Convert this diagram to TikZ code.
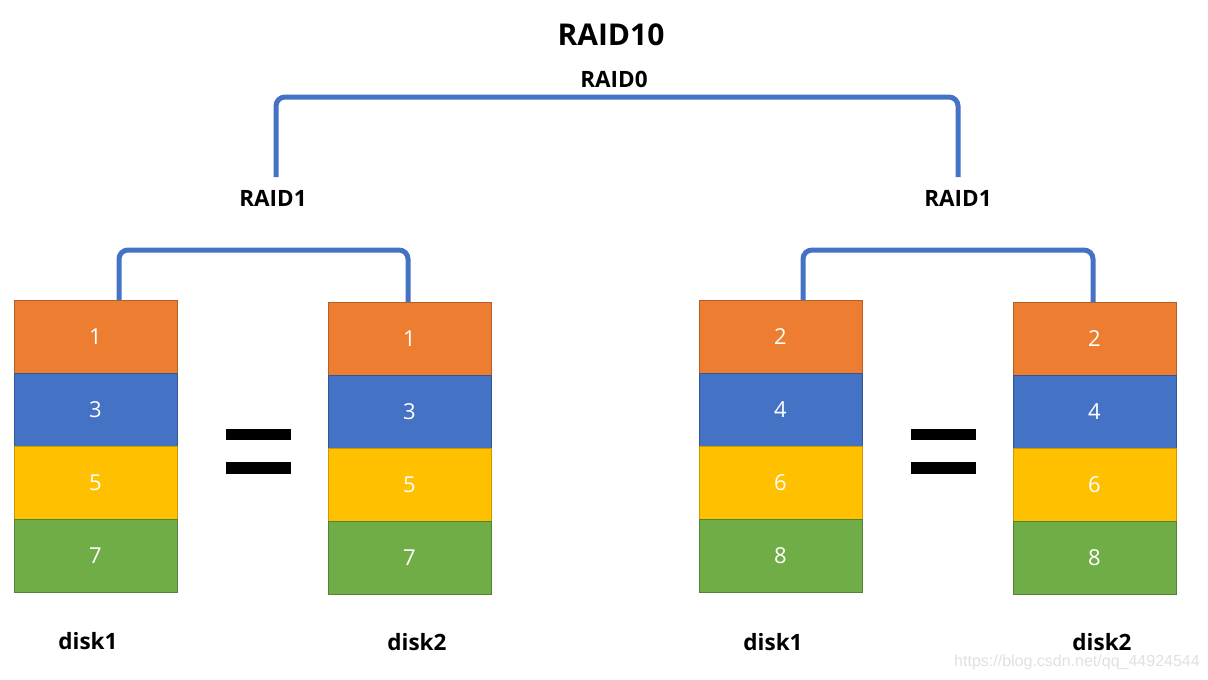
\documentclass[tikz,border=0pt]{standalone}
\usepackage{fontspec}
\setmainfont{Open Sans}
\newfontfamily\wmfont{Liberation Sans}
\definecolor{cOrange}{HTML}{ED7D31}
\definecolor{cBlue}{HTML}{4472C4}
\definecolor{cYellow}{HTML}{FFC000}
\definecolor{cGreen}{HTML}{70AD47}
\begin{document}
\begin{tikzpicture}[x=1pt,y=-1pt,
  cell/.style={minimum width=163pt,minimum height=73pt,inner sep=0pt,outer sep=0pt,line width=0.8pt,text=white,font=\fontsize{22}{22}\selectfont},
  org/.style={cell,fill=cOrange,draw=cOrange!75!black},
  blu/.style={cell,fill=cBlue,draw=cBlue!75!black},
  yel/.style={cell,fill=cYellow,draw=cYellow!80!black},
  grn/.style={cell,fill=cGreen,draw=cGreen!75!black},
  br/.style={draw=cBlue,line width=5pt,rounded corners=9pt},
  lbl/.style={inner sep=0pt,font=\bfseries\fontsize{22.5}{22.5}\selectfont},
  eqbar/.style={fill=black}]
\useasboundingbox (0,0) rectangle (1208,680);
% left disk1
\node[org] (A1) at (95.5,336.5) {1};
\node[blu] (A2) at (95.5,409.5) {3};
\node[yel] (A3) at (95.5,482.5) {5};
\node[grn] (A4) at (95.5,555.5) {7};
% left disk2
\node[org] (B1) at (409.5,338.5) {1};
\node[blu] (B2) at (409.5,411.5) {3};
\node[yel] (B3) at (409.5,484.5) {5};
\node[grn] (B4) at (409.5,557.5) {7};
% right disk1
\node[org] (C1) at (780.5,336.5) {2};
\node[blu] (C2) at (780.5,409.5) {4};
\node[yel] (C3) at (780.5,482.5) {6};
\node[grn] (C4) at (780.5,555.5) {8};
% right disk2
\node[org] (D1) at (1094.5,338.5) {2};
\node[blu] (D2) at (1094.5,411.5) {4};
\node[yel] (D3) at (1094.5,484.5) {6};
\node[grn] (D4) at (1094.5,557.5) {8};
% labels
\node[font=\bfseries\fontsize{30}{30}\selectfont] (t10) at (611,35) {RAID10};
\node[lbl] (t0) at (614,79) {RAID0};
\node[lbl] (t1l) at (273,198) {RAID1};
\node[lbl] (t1r) at (958,198) {RAID1};
\node[lbl] (dA) at (88,641) {disk1};
\node[lbl] (dB) at (417,642) {disk2};
\node[lbl] (dC) at (773,642) {disk1};
\node[lbl] (dD) at (1102,642) {disk2};
% brackets
\coordinate (b1l) at (119,250); \coordinate (b1r) at (408,250);
\draw[br] (A1.north -| b1l) -- (b1l) -- (b1r) -- (B1.north -| b1r);
\coordinate (b2l) at (803,250); \coordinate (b2r) at (1093,250);
\draw[br] (C1.north -| b2l) -- (b2l) -- (b2r) -- (D1.north -| b2r);
\coordinate (tl0) at (276,177); \coordinate (tl) at (276,97);
\coordinate (tr) at (958,97); \coordinate (tr0) at (958,177);
\draw[br] (tl0) -- (tl) -- (tr) -- (tr0);
% equals signs
\fill[eqbar] (226,429) rectangle (291,440);
\fill[eqbar] (226,462) rectangle (291,474);
\fill[eqbar] (911,429) rectangle (976,440);
\fill[eqbar] (911,462) rectangle (976,474);
% watermark
\node[inner sep=0pt,text=black!12,font=\wmfont\fontsize{16}{16}\selectfont] (wm) at (1077,662) {https://blog.csdn.net/qq\_44924544};
\end{tikzpicture}
\end{document}
